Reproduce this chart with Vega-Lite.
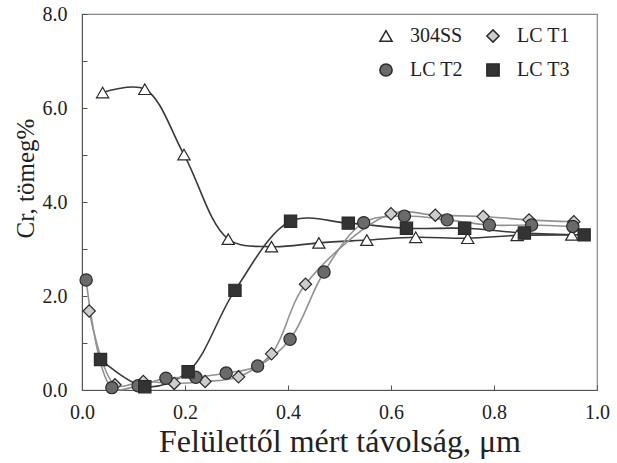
{
  "$schema": "https://vega.github.io/schema/vega-lite/v6.json",
  "width": 515,
  "height": 376,
  "autosize": "none",
  "padding": {"left": 82, "top": 14, "right": 20, "bottom": 73},
  "background": "white",
  "config": {
    "font": "Liberation Serif",
    "view": {"stroke": "#888", "strokeWidth": 1.2},
    "axis": {
      "grid": false,
      "domainColor": "#555",
      "tickColor": "#555",
      "labelColor": "#222",
      "titleColor": "#222",
      "labelFont": "Liberation Serif",
      "titleFont": "Liberation Serif",
      "labelFontSize": 20,
      "titleFontSize": 25,
      "titleFontWeight": "normal",
      "tickSize": -5,
      "labelFlush": false
    }
  },
  "data": {
    "values": [
      {"series": "304SS", "distance": 0.04, "cr": 6.33},
      {"series": "304SS", "distance": 0.122, "cr": 6.4},
      {"series": "304SS", "distance": 0.198, "cr": 5.01},
      {"series": "304SS", "distance": 0.284, "cr": 3.21},
      {"series": "304SS", "distance": 0.368, "cr": 3.05},
      {"series": "304SS", "distance": 0.46, "cr": 3.13},
      {"series": "304SS", "distance": 0.553, "cr": 3.19},
      {"series": "304SS", "distance": 0.648, "cr": 3.25},
      {"series": "304SS", "distance": 0.749, "cr": 3.23},
      {"series": "304SS", "distance": 0.845, "cr": 3.29},
      {"series": "304SS", "distance": 0.951, "cr": 3.3},
      {"series": "LC T1", "distance": 0.014, "cr": 1.68},
      {"series": "LC T1", "distance": 0.064, "cr": 0.11},
      {"series": "LC T1", "distance": 0.119, "cr": 0.18},
      {"series": "LC T1", "distance": 0.179, "cr": 0.14},
      {"series": "LC T1", "distance": 0.239, "cr": 0.18},
      {"series": "LC T1", "distance": 0.304, "cr": 0.28},
      {"series": "LC T1", "distance": 0.368, "cr": 0.77},
      {"series": "LC T1", "distance": 0.434, "cr": 2.25},
      {"series": "LC T1", "distance": 0.6, "cr": 3.75},
      {"series": "LC T1", "distance": 0.686, "cr": 3.72},
      {"series": "LC T1", "distance": 0.779, "cr": 3.69},
      {"series": "LC T1", "distance": 0.868, "cr": 3.62},
      {"series": "LC T1", "distance": 0.955, "cr": 3.58},
      {"series": "LC T2", "distance": 0.008, "cr": 2.34},
      {"series": "LC T2", "distance": 0.058, "cr": 0.05},
      {"series": "LC T2", "distance": 0.109, "cr": 0.09},
      {"series": "LC T2", "distance": 0.163, "cr": 0.25},
      {"series": "LC T2", "distance": 0.221, "cr": 0.27},
      {"series": "LC T2", "distance": 0.28, "cr": 0.36},
      {"series": "LC T2", "distance": 0.341, "cr": 0.51},
      {"series": "LC T2", "distance": 0.404, "cr": 1.08},
      {"series": "LC T2", "distance": 0.47, "cr": 2.51},
      {"series": "LC T2", "distance": 0.547, "cr": 3.56},
      {"series": "LC T2", "distance": 0.626, "cr": 3.7},
      {"series": "LC T2", "distance": 0.709, "cr": 3.62},
      {"series": "LC T2", "distance": 0.791, "cr": 3.51},
      {"series": "LC T2", "distance": 0.873, "cr": 3.51},
      {"series": "LC T2", "distance": 0.953, "cr": 3.48},
      {"series": "LC T3", "distance": 0.036, "cr": 0.65},
      {"series": "LC T3", "distance": 0.122, "cr": 0.07},
      {"series": "LC T3", "distance": 0.206, "cr": 0.39},
      {"series": "LC T3", "distance": 0.297, "cr": 2.12},
      {"series": "LC T3", "distance": 0.405, "cr": 3.59},
      {"series": "LC T3", "distance": 0.517, "cr": 3.55},
      {"series": "LC T3", "distance": 0.63, "cr": 3.44},
      {"series": "LC T3", "distance": 0.743, "cr": 3.44},
      {"series": "LC T3", "distance": 0.859, "cr": 3.34},
      {"series": "LC T3", "distance": 0.975, "cr": 3.3}
    ]
  },
  "encoding": {
    "x": {
      "field": "distance",
      "type": "quantitative",
      "scale": {"domain": [0, 1], "nice": false, "zero": false},
      "axis": {
        "values": [0, 0.2, 0.4, 0.6, 0.8, 1],
        "format": ".1f",
        "labelPadding": 17,
        "title": "Felülettől mért távolság, μm",
        "titleFontSize": 32,
        "titlePadding": 4
      }
    },
    "y": {
      "field": "cr",
      "type": "quantitative",
      "scale": {"domain": [0, 8], "nice": false},
      "axis": {
        "values": [0, 1, 2, 3, 4, 5, 6, 7, 8],
        "labelExpr": "datum.value % 2 === 0 ? format(datum.value, '.1f') : ''",
        "labelPadding": 20,
        "title": "Cr, tömeg%",
        "titlePadding": 4,
        "titleY": 164
      }
    }
  },
  "layer": [
    {
      "transform": [{"filter": "datum.series === '304SS' || datum.series === 'LC T3'"}],
      "mark": {"type": "line", "interpolate": "catmull-rom", "strokeWidth": 1.6, "color": "#3a3a3a"},
      "encoding": {
        "detail": {"field": "series", "type": "nominal"},
        "order": {"field": "distance", "type": "quantitative"}
      }
    },
    {
      "transform": [{"filter": "datum.series === 'LC T1' || datum.series === 'LC T2'"}],
      "mark": {"type": "line", "interpolate": "catmull-rom", "strokeWidth": 1.6, "color": "#929292"},
      "encoding": {
        "detail": {"field": "series", "type": "nominal"},
        "order": {"field": "distance", "type": "quantitative"}
      }
    },
    {
      "mark": {"type": "point", "filled": true, "size": 150, "stroke": "#2a2a2a", "strokeWidth": 1.2, "opacity": 1},
      "encoding": {
        "shape": {
          "field": "series",
          "type": "nominal",
          "title": null,
          "scale": {"domain": ["304SS", "LC T1", "LC T2", "LC T3"], "range": ["triangle-up", "diamond", "circle", "square"]},
          "legend": {
            "orient": "none",
            "legendX": 294,
            "legendY": 12,
            "direction": "horizontal",
            "columns": 2,
            "labelFont": "Liberation Serif",
            "labelFontSize": 20,
            "labelColor": "#222",
            "symbolSize": 150,
            "rowPadding": 14,
            "columnPadding": 20,
            "labelOffset": 14,
            "encode": {
              "symbols": {
                "update": {
                  "stroke": {"value": "#2a2a2a"},
                  "strokeWidth": {"value": 1.2}
                }
              }
            }
          }
        },
        "fill": {
          "field": "series",
          "type": "nominal",
          "title": null,
          "scale": {"domain": ["304SS", "LC T1", "LC T2", "LC T3"], "range": ["#ffffff", "#cccccc", "#6a6a6a", "#333333"]}
        }
      }
    }
  ]
}
